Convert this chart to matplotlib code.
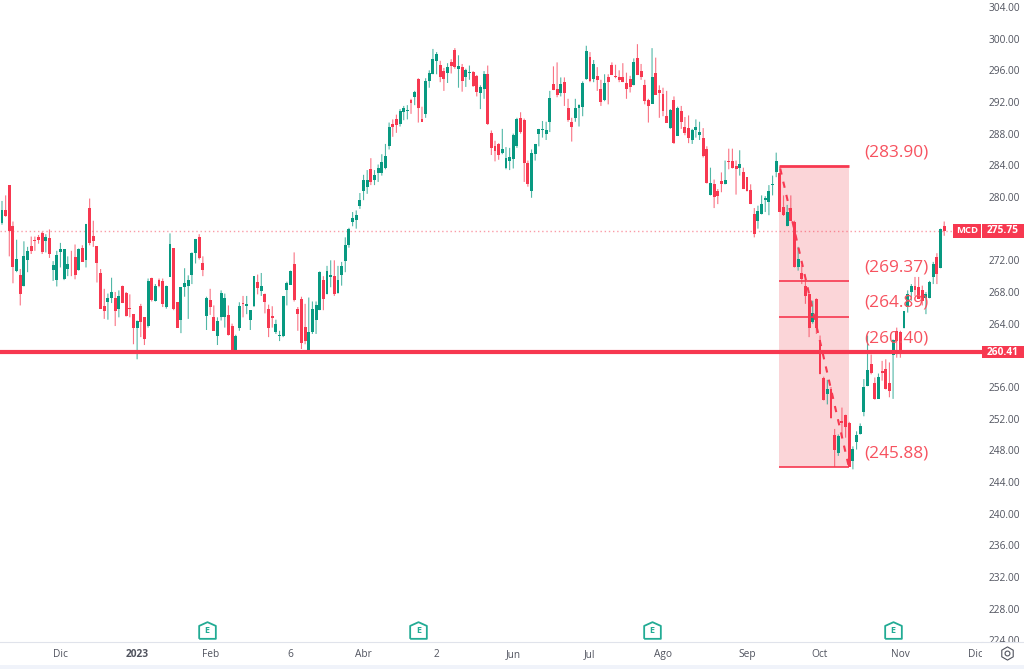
import numpy as np
import matplotlib
matplotlib.use("Agg")
import matplotlib.pyplot as plt
from matplotlib.lines import Line2D
from matplotlib.patches import Rectangle

# daily candles
opens = [276.7,278.4,281.5,276.3,270.7,270.2,268.8,272.0,273.8,274.6,
274.9,275.5,274.4,274.8,270.8,269.5,273.0,269.6,270.9,271.7,
272.4,270.8,273.6,272.1,278.6,275.1,273.8,270.4,266.2,266.7,
267.3,267.2,265.8,268.7,267.9,265.9,265.2,263.4,266.2,264.8,
263.7,269.8,266.9,269.5,269.4,266.1,269.9,273.5,266.7,264.4,
268.6,268.7,270.2,272.9,274.9,271.6,265.0,267.0,264.9,262.5,
264.9,264.9,265.1,263.7,260.7,263.5,266.6,266.2,264.4,266.2,
269.2,268.1,267.7,265.9,265.0,263.0,262.4,262.4,268.3,268.9,
271.5,265.8,267.1,263.6,260.2,263.0,264.5,265.7,269.5,267.8,
269.9,270.0,267.9,270.2,271.9,273.9,276.8,277.1,278.8,280.8,
281.3,283.5,282.2,283.0,283.0,283.7,286.5,289.2,289.8,289.2,
290.7,290.9,292.3,292.6,294.9,289.9,290.5,294.6,295.5,297.2,
296.7,295.9,295.6,297.1,298.6,296.2,296.4,295.1,295.7,295.8,
295.3,293.1,293.6,295.5,288.1,286.4,286.7,285.6,283.7,284.6,
284.8,286.5,290.0,289.7,284.3,280.8,285.4,288.0,288.5,287.9,
289.5,294.3,293.6,293.1,294.5,291.3,289.5,290.0,291.3,291.4,
294.9,297.7,294.9,295.3,293.6,292.2,295.2,296.7,295.3,295.1,
295.1,294.4,294.9,294.1,297.6,295.9,294.2,292.2,291.8,295.7,
293.5,293.0,290.2,288.7,292.2,287.7,290.9,288.9,288.7,287.2,
288.5,287.8,287.5,286.1,280.2,281.7,280.7,282.0,281.6,284.6,
284.6,283.9,283.7,283.1,282.5,280.9,277.9,277.0,277.9,279.6,
279.4,281.5,283.2,283.0,278.7,276.3,278.6,276.8,271.2,270.4,
268.7,267.7,264.2,267.1,261.9,257.1,255.1,255.8,249.9,247.7,
251.7,252.5,251.5,246.6,249.0,250.1,252.8,256.1,258.9,256.5,
254.5,258.0,258.3,256.5,260.0,263.1,263.0,263.5,266.1,268.0,
268.8,268.6,268.2,267.2,267.2,269.9,272.4,271.0,276.3]
highs = [279.5,280.2,281.5,276.9,274.6,270.9,274.4,273.7,275.0,275.0,
275.2,275.6,275.3,275.9,271.9,273.2,274.2,273.4,272.5,273.2,
274.0,273.5,273.9,276.6,279.8,277.0,273.8,270.9,268.4,267.8,
269.8,268.0,268.2,268.8,268.0,267.7,265.2,264.4,266.5,264.8,
269.7,269.8,269.0,269.7,269.7,268.8,275.4,273.5,266.7,268.6,
271.0,270.1,273.0,274.7,275.3,272.5,267.4,268.4,266.3,264.8,
268.2,267.8,266.3,264.0,262.6,266.7,267.5,267.5,265.7,270.0,
270.2,270.4,267.8,266.4,266.2,264.5,263.1,267.5,269.3,270.7,
273.0,266.1,267.4,266.5,267.3,266.8,266.8,270.6,270.0,271.3,
272.0,272.0,271.3,271.8,274.9,276.1,278.1,278.3,280.5,282.8,
283.4,284.9,283.4,284.1,285.4,286.7,289.4,289.8,290.4,291.1,
291.5,291.6,292.4,293.4,295.0,291.4,295.0,296.0,298.7,298.3,
297.2,296.3,296.9,297.4,298.8,297.9,296.8,296.2,296.6,295.9,
295.4,294.1,295.9,296.6,288.4,287.1,286.8,288.6,286.3,286.2,
288.0,290.0,290.7,289.9,284.6,286.0,286.7,288.6,289.6,289.5,
293.4,296.5,297.0,295.1,295.1,292.4,290.0,292.4,291.7,294.6,
299.1,298.3,297.3,296.4,294.8,295.5,295.5,297.0,296.7,296.0,
296.9,295.7,295.3,297.5,299.3,296.8,294.8,292.4,298.8,297.6,
294.1,293.8,293.4,291.1,292.7,291.4,291.5,290.1,290.3,288.6,
289.8,289.5,288.7,286.4,283.7,282.2,281.0,283.1,284.6,286.1,
286.1,284.6,285.9,283.7,282.5,281.6,278.6,278.9,280.2,280.1,
281.5,282.7,285.6,283.8,280.2,279.0,280.2,277.0,273.7,271.4,
269.7,267.8,266.9,267.2,262.5,257.3,256.9,256.0,250.7,250.0,
253.4,252.5,251.6,248.5,250.4,251.4,257.0,262.5,260.1,257.2,
257.7,259.3,259.5,259.1,262.0,263.5,263.1,265.6,268.2,269.0,
269.9,269.9,268.8,268.0,269.4,271.8,272.9,276.0,276.9]
lows = [276.5,277.5,272.5,269.1,270.5,266.3,268.7,270.5,272.8,273.2,
274.1,272.8,273.0,272.3,269.4,268.7,271.1,269.5,270.0,270.0,
269.6,270.7,271.8,271.1,273.9,273.7,269.2,265.9,264.6,264.5,
266.6,263.7,264.8,266.6,264.9,264.8,261.4,259.5,262.3,261.3,
263.5,266.8,266.8,268.6,266.1,265.9,269.9,265.7,263.5,262.8,
267.4,264.6,269.0,271.6,272.1,270.0,263.2,265.1,263.1,261.3,
264.4,263.5,262.5,260.4,260.2,263.1,264.8,265.2,263.2,266.1,
267.7,267.5,265.3,262.3,263.5,262.7,261.8,262.3,266.3,268.9,
266.8,263.1,260.8,261.4,260.2,262.7,262.7,265.7,265.7,267.7,
268.6,267.5,267.8,268.8,270.5,273.6,276.3,276.0,278.5,279.6,
280.4,281.5,281.5,281.9,282.7,283.5,286.0,287.6,288.1,288.9,
289.7,289.8,290.5,291.6,289.4,289.5,290.0,293.8,295.5,295.5,
294.5,293.4,294.4,295.6,296.2,293.8,293.3,293.9,294.8,293.9,
292.7,291.1,292.4,289.1,285.3,284.5,284.7,285.4,283.5,283.4,
283.6,286.2,288.0,281.9,281.3,279.9,284.6,286.4,287.5,287.2,
288.2,293.5,292.6,292.7,291.5,289.5,287.0,289.5,288.9,290.2,
294.8,294.5,294.5,293.4,291.5,292.1,291.7,295.4,295.0,294.5,
294.5,292.4,293.2,294.1,295.4,294.8,291.7,289.4,291.8,292.9,
290.0,290.2,289.4,288.6,286.7,287.7,288.6,287.8,286.8,286.7,
287.5,287.2,285.0,281.7,280.2,278.6,279.1,280.6,281.6,283.5,
283.6,280.3,282.7,281.0,280.7,279.1,274.9,276.0,277.8,278.1,
277.7,280.2,282.5,278.1,277.6,276.3,277.0,271.1,270.7,269.0,
266.5,262.3,264.0,262.7,257.6,254.3,253.8,252.0,245.9,247.3,
249.6,249.6,245.9,245.6,248.1,250.0,252.3,256.1,257.6,254.4,
254.5,256.8,255.7,254.7,254.5,259.7,259.7,263.4,265.4,266.9,
267.5,267.1,266.3,265.2,267.2,269.0,269.0,271.0,275.1]
closes = [278.3,277.6,275.7,271.2,272.2,267.7,272.5,273.2,273.2,274.4,
274.6,273.0,274.9,272.8,271.4,272.7,273.4,273.4,271.5,271.6,
270.2,273.4,271.8,276.6,274.2,274.4,271.6,265.9,265.6,267.2,
268.0,265.6,267.5,266.6,265.0,265.8,263.4,264.3,264.2,262.0,
269.4,267.0,268.8,268.7,266.5,268.8,274.0,265.9,263.5,268.6,
269.1,269.5,272.9,274.7,272.3,270.8,267.3,266.1,263.1,264.3,
267.9,267.3,262.6,260.4,262.4,266.2,266.5,266.5,265.7,270.0,
268.5,268.7,266.7,263.5,264.7,263.9,262.6,267.5,269.1,270.6,
267.0,265.2,261.5,261.8,263.0,265.9,266.3,270.5,267.1,270.7,
270.2,267.7,269.5,271.3,273.9,275.9,277.4,277.7,279.6,282.1,
282.2,281.9,282.8,283.6,284.4,285.2,288.9,288.8,289.1,290.8,
291.2,291.0,291.9,293.2,291.3,289.5,294.6,295.7,297.4,298.1,
295.1,294.9,296.4,296.5,296.4,296.5,294.6,296.0,295.8,294.0,
293.3,293.9,295.5,289.2,286.2,285.8,285.3,286.0,284.9,285.1,
287.8,289.9,288.2,284.3,281.7,285.6,286.7,288.6,288.6,288.4,
292.5,293.5,292.9,294.3,293.1,289.7,288.9,291.2,291.6,294.4,
298.4,294.6,296.8,294.8,292.0,294.4,294.5,295.4,295.1,294.8,
294.5,293.6,293.9,297.0,295.4,295.2,292.1,291.5,295.2,292.9,
293.1,290.9,289.4,291.0,286.8,291.3,289.5,288.1,287.5,288.5,
288.9,288.2,285.2,281.8,281.8,280.0,280.1,281.7,282.2,284.4,
283.6,283.5,284.2,281.0,280.8,279.1,275.3,278.2,279.1,279.9,
280.7,281.7,284.6,278.1,277.7,278.1,277.0,271.1,272.2,269.7,
267.5,263.5,265.4,263.4,257.6,254.3,255.8,252.1,248.1,249.8,
251.4,250.9,245.9,248.2,249.9,251.1,256.0,258.2,257.8,254.5,
257.2,257.8,255.7,255.5,261.9,261.8,260.4,265.6,267.8,268.8,
268.2,267.1,266.9,267.8,269.2,271.5,270.3,276.0,275.75]

# axis labels
price_ticks = [304,300,296,292,288,284,280,272,268,264,256,252,248,244,240,236,232,228,224]
date_ticks = [17,38,58,80,100,120,141,162,182,205,225,247,267.5]
date_labels = ["Dic","2023","Feb","6","Abr","2","Jun","Jul","Ago","Sep","Oct","Nov","Dic"]
earnings = [57,115,179,245]

# drawing on the chart
last_price = 275.75
support = 260.41
levels = [283.90,269.37,264.89,260.40,245.88]
label_texts = ["(283.90)","(269.37)","(264.89)","(260.40)","(245.88)"]
box_x = [213.8,232.9]
trend_x = [214.1,232.9]
trend_y = [283.6,245.9]

RED = "#f73850"
GREEN = "#089981"
GREY = "#50535e"
FONT = "Open Sans"

opens = np.array(opens)
highs = np.array(highs)
lows = np.array(lows)
closes = np.array(closes)
x = np.arange(1, len(opens) + 1)
colors = [RED if c < o else GREEN for o, c in zip(opens, closes)]

fig = plt.figure(figsize=(10.24, 6.69), dpi=100)
ax = fig.add_axes([0, 1 - 642/669, 982/1024, 642/669])
ax.set_xlim(0.452, 269.35)
ax.set_ylim(223.79, 304.88)

# rectangle behind the candles
ax.fill_between(box_x, levels[-1], levels[0], color="#fbd5d8", lw=0, zorder=1)
ax.axhline(last_price, color=RED, alpha=0.5, lw=1, ls=(0, (1, 2)), zorder=1.5)

wicks = ax.vlines(x, lows, highs, colors=colors, lw=0.8, alpha=0.7, zorder=2)
wicks.set_snap(False)
ax.bar(x, np.maximum(np.abs(closes - opens), 0.12), bottom=np.minimum(opens, closes),
       width=0.8, color=colors, lw=0, zorder=3)

ax.plot(trend_x, trend_y, color=RED, lw=1.5, ls=(0, (3, 3.5)), zorder=3.5)
ax.axhline(support, color=RED, lw=3, zorder=4)
for i, v in enumerate(levels):
    if i != 3:
        ax.plot(box_x, [v, v], color=RED, lw=2 if i == 0 else 1.2, zorder=4, solid_capstyle="butt")
    ax.annotate(label_texts[i], xy=(box_x[1], v), xytext=(10.8, 10), textcoords="offset points",
                color="#f7525f", fontsize=12.4, family=FONT, va="center", zorder=5)

# earnings markers
house = [(-1, -1), (1, -1), (1, 0.55), (0, 1), (-1, 0.55), (-1, -1)]
ax.plot(earnings, [225.3] * len(earnings), ls="", marker=house, ms=12, mfc="white",
        mec="#22ab94", mew=1.3, zorder=5, clip_on=False)
for e in earnings:
    ax.text(e, 225.3, "E", color="#22ab94", fontsize=6.5, family=FONT, weight="bold",
            ha="center", va="center", zorder=6)

for s in ["top", "left", "right"]:
    ax.spines[s].set_visible(False)
ax.spines["bottom"].set_color("#e0e3eb")
ax.yaxis.tick_right()
ax.set_yticks(price_ticks)
ax.set_yticklabels([f"{p:.2f}" for p in price_ticks], family=FONT, fontsize=7.3, color=GREY)
ax.set_xticks(date_ticks)
ax.set_xticklabels(date_labels, family=FONT, fontsize=7.3, color=GREY)
ax.get_xticklabels()[1].set_weight("bold")
ax.tick_params(axis="both", length=0)
ax.tick_params(axis="y", pad=5)
ax.tick_params(axis="x", pad=5)

# price boxes right of the plot
tr = ax.get_yaxis_transform()
ax.add_patch(Rectangle((1, last_price - 0.88), 42/982, 1.76, transform=tr, color=RED, lw=0, clip_on=False, zorder=6))
ax.add_patch(Rectangle((953/982, last_price - 0.88), 28/982, 1.76, transform=tr, color=RED, lw=0, clip_on=False, zorder=6))
ax.add_patch(Rectangle((1, support - 0.8), 42/982, 1.6, transform=tr, color=RED, lw=0, clip_on=False, zorder=6))
ax.text(1 + 21/982, last_price, f"{last_price:.2f}", transform=tr, color="white", fontsize=7.3, family=FONT,
        weight="bold", ha="center", va="center", zorder=7)
ax.text(967/982, last_price, "MCD", transform=tr, color="white", fontsize=6.8, family=FONT,
        weight="bold", ha="center", va="center", zorder=7)
ax.text(1 + 21/982, support, f"{support:.2f}", transform=tr, color="white", fontsize=7.3, family=FONT,
        weight="bold", ha="center", va="center", zorder=7)

# bottom corner, hides the part of the labels that runs under it
fig.add_artist(Rectangle((982/1024, 4/669), 42/1024, 22/669, transform=fig.transFigure, color="white", lw=0, zorder=3))
fig.add_artist(Line2D([982/1024, 1], [27/669, 27/669], transform=fig.transFigure, color="#e0e3eb", lw=0.8, zorder=3.5))
fig.add_artist(Rectangle((0, 0), 1, 4/669, transform=fig.transFigure, color="#f0f3fa", lw=0, zorder=3))
fig.add_artist(Line2D([1007/1024], [16/669], transform=fig.transFigure, marker="h", ms=9.5, mfc="none",
                      mec=GREY, mew=0.8, zorder=4))
fig.add_artist(Line2D([1007/1024], [16/669], transform=fig.transFigure, marker="o", ms=3.5, mfc="none",
                      mec=GREY, mew=0.8, zorder=4))

fig.savefig("out.png", dpi=100)
